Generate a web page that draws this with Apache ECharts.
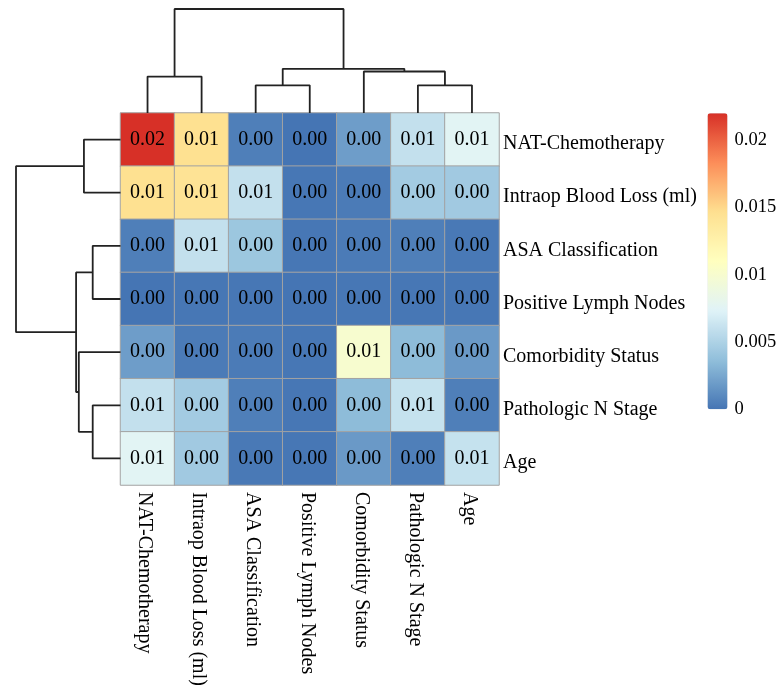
<!DOCTYPE html>
<html><head><meta charset="utf-8">
<script src="https://cdn.jsdelivr.net/npm/echarts@6/dist/echarts.min.js"></script>
<style>html,body{margin:0;padding:0;background:#fff}#chart{width:781px;height:688px}</style>
</head><body><div id="chart"></div>
<script>
// ---------- data ----------
const features = ['NAT-Chemotherapy','Intraop Blood Loss (ml)','ASA Classification','Positive Lymph Nodes','Comorbidity Status','Pathologic N Stage','Age'];
const rowNAT      = [0.0220, 0.0146, 0.0005, 0.0000, 0.0020, 0.0060, 0.0076];
const rowIntraop  = [0.0146, 0.0143, 0.0060, 0.0001, 0.0003, 0.0045, 0.0044];
const rowASA      = [0.0005, 0.0060, 0.0042, 0.0001, 0.0003, 0.0005, 0.0002];
const rowPosLN    = [0.0000, 0.0001, 0.0001, 0.0000, 0.0001, 0.0001, 0.0001];
const rowComorb   = [0.0020, 0.0003, 0.0003, 0.0001, 0.0100, 0.0035, 0.0018];
const rowPathN    = [0.0060, 0.0045, 0.0005, 0.0001, 0.0035, 0.0061, 0.0005];
const rowAge      = [0.0076, 0.0044, 0.0002, 0.0001, 0.0018, 0.0005, 0.0061];
const matrix = [rowNAT, rowIntraop, rowASA, rowPosLN, rowComorb, rowPathN, rowAge];
// hierarchical clustering merges: [childA, childB, height]; leaves 0..6, merge k -> node 7+k
const merges = [[0,1,0.350],[2,3,0.266],[5,6,0.266],[4,9,0.399],[8,10,0.425],[7,11,1.0]];
const legendTicks = [0, 0.005, 0.01, 0.015, 0.02];
const legendMin = 0, legendMax = 0.0220;
const palette = ['#4575B4','#91BFDB','#E0F3F8','#FFFFBF','#FEE090','#FC8D59','#D73027'];

// ---------- build ----------
const FONT = 'Liberation Serif';
const n = features.length;
const heatData = [];
matrix.forEach((row, r) => row.forEach((v, c) => heatData.push([c, r, v])));

// dendrogram segments from merges
const nodePos = [], nodeH = [];
for (let i = 0; i < n; i++) { nodePos.push(i + 0.5); nodeH.push(0); }
const segs = [];
merges.forEach(([a, b, h]) => {
  segs.push([[nodePos[a], nodeH[a]], [nodePos[a], h], [nodePos[b], h], [nodePos[b], nodeH[b]]]);
  nodePos.push((nodePos[a] + nodePos[b]) / 2); nodeH.push(h);
});

const HM = {left: 120.5, top: 113, width: 378.5, height: 372};
const lineStyle = {color: '#222', width: 1.8};
const hidden = {show: false};
const txt = {fontFamily: FONT, fontSize: 20, color: '#000'};

const series = [{
  type: 'heatmap', xAxisIndex: 0, yAxisIndex: 0, data: heatData,
  label: Object.assign({show: true, formatter: p => p.value[2].toFixed(2)}, txt),
  itemStyle: {borderColor: '#a3a3a3', borderWidth: 1},
  emphasis: {disabled: true}
}];
segs.forEach(s => series.push({type: 'line', xAxisIndex: 1, yAxisIndex: 1, data: s, symbol: 'none', silent: true, lineStyle, animation: false}));
segs.forEach(s => series.push({type: 'line', xAxisIndex: 2, yAxisIndex: 2, data: s.map(([p, h]) => [h, p]), symbol: 'none', silent: true, lineStyle, animation: false}));

const option = {
  backgroundColor: '#fff',
  animation: false,
  grid: [
    Object.assign({outerBoundsMode: 'none', containLabel: false}, HM),
    {left: HM.left, top: 9, width: HM.width, height: HM.top - 9, outerBoundsMode: 'none'},
    {left: 16, top: HM.top, width: HM.left - 16, height: HM.height, outerBoundsMode: 'none'},
    {left: 707.5, top: 113.3, width: 20, height: 296, outerBoundsMode: 'none'}
  ],
  xAxis: [
    {type: 'category', gridIndex: 0, data: features, position: 'bottom',
     axisLine: hidden, axisTick: hidden, splitLine: hidden,
     axisLabel: Object.assign({rotate: -90, margin: 7, interval: 0, hideOverlap: false,
       formatter: v => '{a|' + v + '}', rich: {a: Object.assign({padding: [6, 0, 0, 0]}, txt)}}, txt)},
    {type: 'value', gridIndex: 1, min: 0, max: n, show: false},
    {type: 'value', gridIndex: 2, min: 0, max: 1, inverse: true, show: false},
    {type: 'value', gridIndex: 3, min: 0, max: 1, show: false}
  ],
  yAxis: [
    {type: 'category', gridIndex: 0, data: features, inverse: true, position: 'right',
     axisLine: hidden, axisTick: hidden, splitLine: hidden,
     axisLabel: Object.assign({margin: 4, interval: 0, align: 'left', hideOverlap: false,
       formatter: v => '{a|' + v + '}', rich: {a: Object.assign({padding: [9, 0, 0, 0]}, txt)}}, txt)},
    {type: 'value', gridIndex: 1, min: 0, max: 1, show: false},
    {type: 'value', gridIndex: 2, min: 0, max: n, inverse: true, show: false},
    {type: 'value', gridIndex: 3, min: legendMin, max: legendMax, interval: 0.005, position: 'right',
     axisLine: hidden, axisTick: hidden, splitLine: hidden,
     axisLabel: {margin: 7, showMaxLabel: false, fontFamily: FONT, fontSize: 18.5, color: '#000',
       formatter: v => legendTicks.some(t => Math.abs(t - v) < 1e-9) ? String(parseFloat(v.toFixed(4))) : ''}}
  ],
  visualMap: {
    type: 'continuous', seriesIndex: 0, min: legendMin, max: legendMax,
    calculable: false, realtime: false, orient: 'vertical',
    left: 707.5, top: 113.3, itemWidth: 20, itemHeight: 296, padding: 0,
    text: null, showLabel: false,
    inRange: {color: palette}
  },
  series
};
const chart = echarts.init(document.getElementById('chart'), null, {renderer: 'canvas'});
chart.setOption(option);
</script>
</body></html>
